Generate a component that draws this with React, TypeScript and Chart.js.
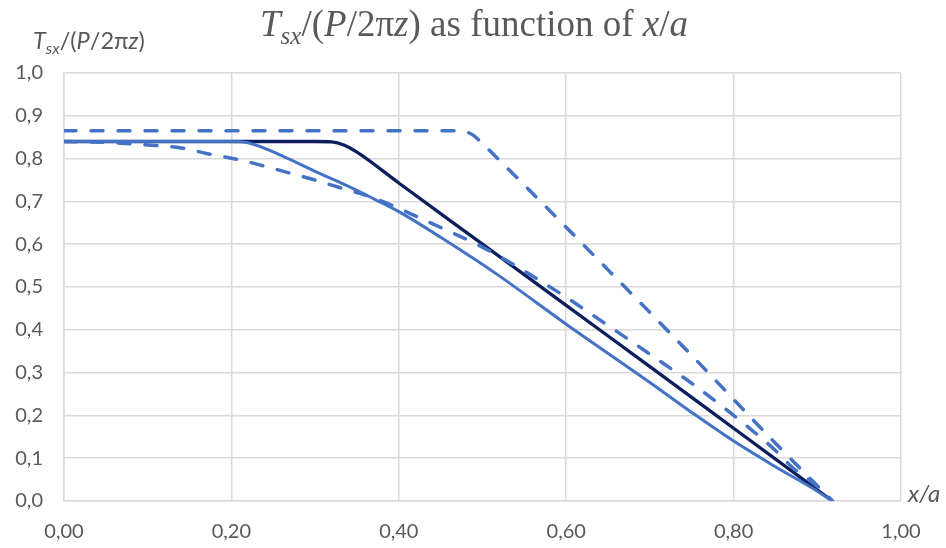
import React, { useEffect, useRef } from "react";
import { Chart, registerables } from "chart.js";

Chart.register(...registerables);

// Series data (x/a, Tsx/(P/2πz))
const navyX = [0, 0.3, 0.32, 0.335, 0.35, 0.4, 0.5, 0.6, 0.7, 0.8, 0.918];
const navyY = [0.84, 0.84, 0.839, 0.831, 0.815, 0.743, 0.6, 0.457, 0.314, 0.17, 0];

const solidX = [0, 0.2, 0.22, 0.26, 0.3, 0.34, 0.37, 0.4, 0.45, 0.52, 0.6, 0.7, 0.75, 0.8, 0.85, 0.9, 0.918];
const solidY = [0.84, 0.84, 0.837, 0.807, 0.77, 0.735, 0.706, 0.676, 0.616, 0.526, 0.413, 0.277, 0.207, 0.14, 0.08, 0.023, 0];

const upperX = [0, 0.47, 0.48, 0.49, 0.5, 0.55, 0.65, 0.75, 0.85, 0.918];
const upperY = [0.865, 0.865, 0.863, 0.853, 0.835, 0.738, 0.54, 0.34, 0.135, 0];

const lowerX = [0, 0.05, 0.1, 0.14, 0.17, 0.21, 0.24, 0.27, 0.3, 0.33, 0.37, 0.43, 0.46, 0.49, 0.52, 0.55, 0.6, 0.65, 0.7, 0.75, 0.8, 0.85, 0.87, 0.9, 0.918];
const lowerY = [0.84, 0.838, 0.832, 0.825, 0.812, 0.797, 0.782, 0.766, 0.75, 0.732, 0.708, 0.657, 0.63, 0.603, 0.572, 0.537, 0.476, 0.41, 0.343, 0.275, 0.2, 0.118, 0.079, 0.034, 0];

const xTickStep = 0.2;
const yTickStep = 0.1;

type Seg = { t: string; i?: boolean; sub?: boolean };

const titleSegs: Seg[] = [
  { t: "T", i: true },
  { t: "sx", i: true, sub: true },
  { t: "/(" },
  { t: "P", i: true },
  { t: "/2π" },
  { t: "z", i: true },
  { t: ") as function of " },
  { t: "x", i: true },
  { t: "/" },
  { t: "a", i: true },
];

const yLabelSegs: Seg[] = [
  { t: "T", i: true },
  { t: "sx", i: true, sub: true },
  { t: "/(" },
  { t: "P", i: true },
  { t: "/2π" },
  { t: "z", i: true },
  { t: ")" },
];

const xLabelSegs: Seg[] = [{ t: "x/a", i: true }];

const pts = (xs: number[], ys: number[]) => xs.map((x, k) => ({ x, y: ys[k] }));

function drawRich(
  ctx: CanvasRenderingContext2D,
  segs: Seg[],
  x: number,
  y: number,
  align: "left" | "center",
  family: string,
  size: number,
  color: string
) {
  const fontFor = (s: Seg) => {
    const sz = s.sub ? Math.round(size * 0.68) : size;
    return `${s.i ? "italic " : ""}${sz}px ${family}`;
  };
  ctx.save();
  ctx.textBaseline = "alphabetic";
  ctx.textAlign = "left";
  ctx.fillStyle = color;
  let total = 0;
  for (const s of segs) {
    ctx.font = fontFor(s);
    total += ctx.measureText(s.t).width;
  }
  let cx = align === "center" ? x - total / 2 : x;
  for (const s of segs) {
    ctx.font = fontFor(s);
    ctx.fillText(s.t, cx, s.sub ? y + size * 0.22 : y);
    cx += ctx.measureText(s.t).width;
  }
  ctx.restore();
}

const textPlugin = {
  id: "richText",
  afterDraw(chart: any) {
    const ctx = chart.ctx as CanvasRenderingContext2D;
    drawRich(ctx, titleSegs, 474, 36, "center", "'Liberation Serif', 'Times New Roman', serif", 37, "#595959");
    drawRich(ctx, yLabelSegs, 33, 49, "left", "Lato, 'Open Sans', sans-serif", 23.5, "#595959");
    drawRich(ctx, xLabelSegs, 908, 502, "left", "Lato, 'Open Sans', sans-serif", 24, "#595959");
  },
};

export default function App() {
  const ref = useRef<HTMLCanvasElement | null>(null);
  useEffect(() => {
    if (!ref.current) return;
    const grid = "#d9d9d9";
    const chart = new Chart(ref.current, {
      type: "scatter",
      data: {
        datasets: [
          {
            label: "upper",
            data: pts(upperX, upperY),
            showLine: true,
            borderColor: "#4472C4",
            borderWidth: 3.5,
            borderDash: [12, 15],
            borderCapStyle: "round",
            pointRadius: 0,
            cubicInterpolationMode: "monotone",
            order: 1,
          },
          {
            label: "lower",
            data: pts(lowerX, lowerY),
            showLine: true,
            borderColor: "#4472C4",
            borderWidth: 3.5,
            borderDash: [12, 15],
            borderCapStyle: "round",
            pointRadius: 0,
            cubicInterpolationMode: "monotone",
            order: 2,
          },
          {
            label: "solid",
            data: pts(solidX, solidY),
            showLine: true,
            borderColor: "#4472C4",
            borderWidth: 3,
            pointRadius: 0,
            cubicInterpolationMode: "monotone",
            order: 3,
          },
          {
            label: "navy",
            data: pts(navyX, navyY),
            showLine: true,
            borderColor: "#0C1F5C",
            borderWidth: 3.3,
            pointRadius: 0,
            cubicInterpolationMode: "monotone",
            order: 4,
          },
        ],
      },
      options: {
        animation: false,
        responsive: false,
        layout: { padding: { left: 0, right: 45, top: 73, bottom: 0 } },
        plugins: { legend: { display: false }, tooltip: { enabled: false }, title: { display: false } },
        scales: {
          x: {
            type: "linear",
            min: 0,
            max: 1,
            afterFit: (s: any) => {
              s.height = 47;
            },
            ticks: {
              stepSize: xTickStep,
              padding: 19,
              color: "#595959",
              font: { family: "Lato, 'Open Sans', sans-serif", size: 20 },
              callback: (v: any) => Number(v).toFixed(2).replace(".", ","),
            },
            grid: { color: grid, lineWidth: 1.5, drawTicks: false },
            border: { display: true, color: grid, width: 1.5 },
          },
          y: {
            type: "linear",
            min: 0,
            max: 1,
            afterFit: (s: any) => {
              s.width = 64;
            },
            ticks: {
              stepSize: yTickStep,
              padding: 21,
              color: "#595959",
              font: { family: "Lato, 'Open Sans', sans-serif", size: 20 },
              callback: (v: any) => Number(v).toFixed(1).replace(".", ","),
            },
            grid: { color: grid, lineWidth: 1.5, drawTicks: false },
            border: { display: true, color: grid, width: 1.5 },
          },
        },
      },
      plugins: [textPlugin],
    } as any);
    return () => chart.destroy();
  }, []);
  return (
    <div style={{ position: "absolute", left: 0, top: 0, width: 946, height: 548, background: "#fff" }}>
      <canvas ref={ref} width={946} height={548} />
    </div>
  );
}
